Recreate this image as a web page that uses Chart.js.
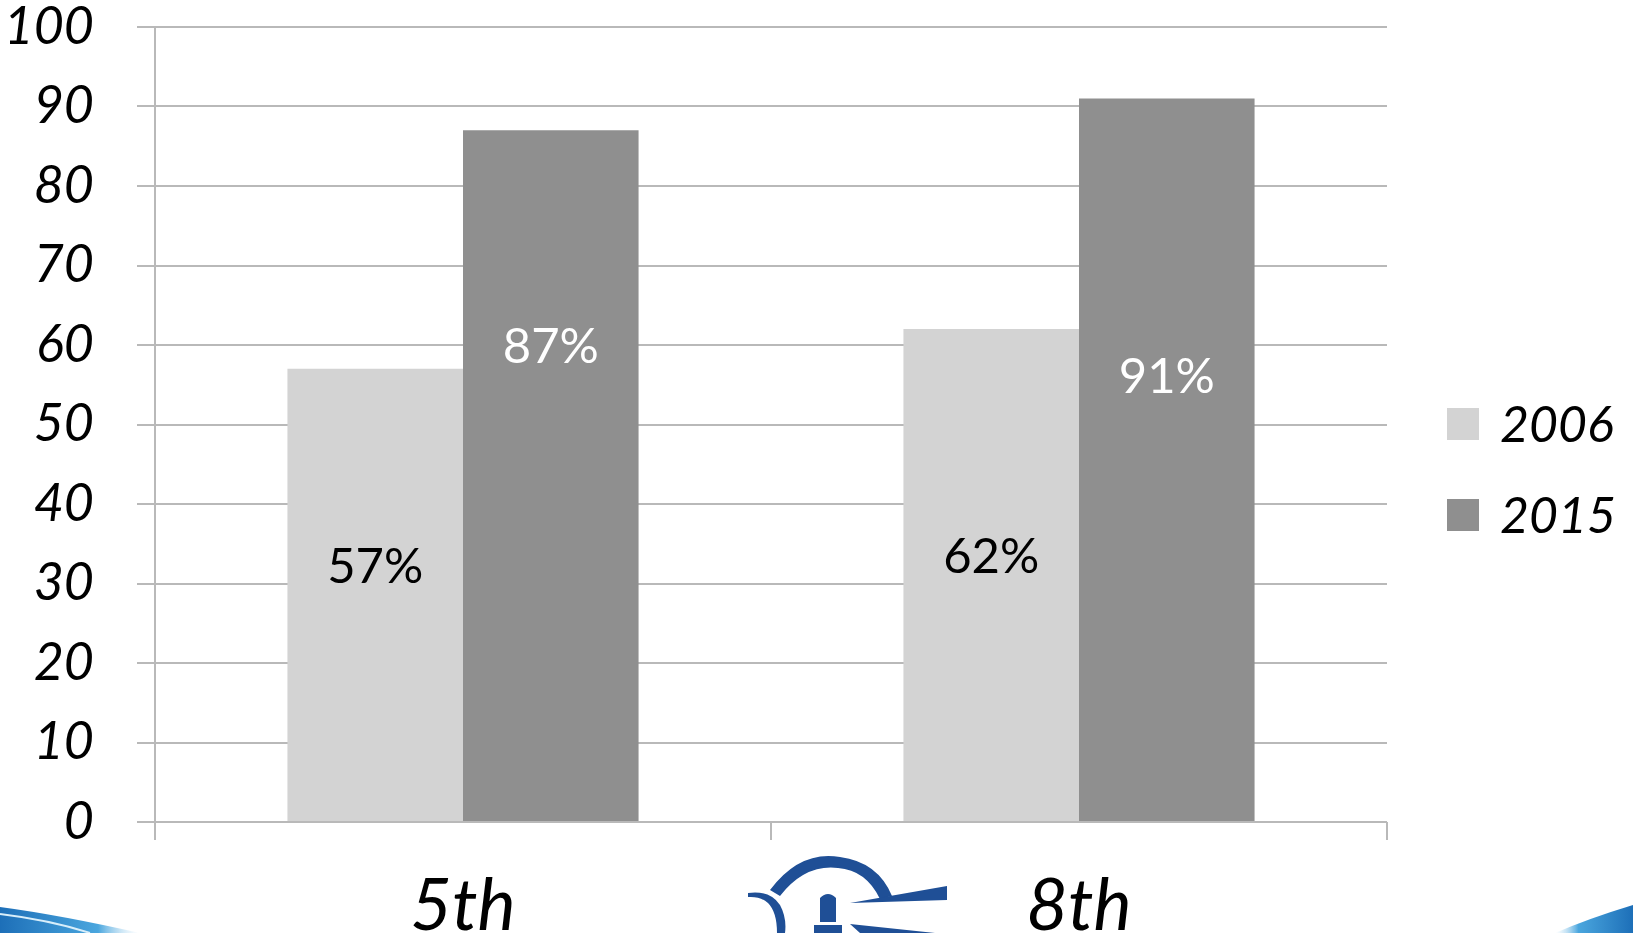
<!DOCTYPE html>
<html>
<head>
<meta charset="utf-8">
<script src="https://cdn.jsdelivr.net/npm/chart.js@4/dist/chart.umd.min.js"></script>
<style>
  html, body { margin: 0; padding: 0; background: #fff; overflow: hidden; }
  #wrap { position: relative; width: 1633px; height: 933px; overflow: hidden; }
  #deco { position: absolute; left: 0; top: 0; pointer-events: none; }
</style>
</head>
<body>
<div id="wrap">
<canvas id="grade-chart" width="1633" height="955"></canvas>
<svg id="deco" width="1633" height="933" viewBox="0 0 1633 933">
  <defs>
    <linearGradient id="swoosh" x1="0" y1="0" x2="1" y2="0">
      <stop offset="0" stop-color="#1d6fb8"/>
      <stop offset="0.7" stop-color="#4aa6de"/>
      <stop offset="1" stop-color="#bfe1f5" stop-opacity="0"/>
    </linearGradient>
    <linearGradient id="swoosh2" x1="1" y1="0" x2="0" y2="0">
      <stop offset="0" stop-color="#1d6fb8"/>
      <stop offset="0.7" stop-color="#4aa6de"/>
      <stop offset="1" stop-color="#bfe1f5" stop-opacity="0"/>
    </linearGradient>
  </defs>
  <path d="M0 907 Q60 915 140 933 L0 933 Z" fill="url(#swoosh)"/>
  <path d="M0 914 Q50 920 90 933" stroke="#d8eefa" stroke-width="2" fill="none"/>
  <path d="M1633 905 Q1590 918 1555 933 L1633 933 Z" fill="url(#swoosh2)"/>
  <g fill="#1f4f96" stroke="none">
    <path d="M770 890 Q800 850 840 857 Q878 862 892 896 L880 899 Q866 870 838 868 Q805 864 780 896 Z"/>
    <path d="M748 893 Q770 890 780 905 Q787 918 785 933 L777 933 Q777 912 768 903 Q760 896 748 897 Z"/>
    <rect x="820" y="898" width="16" height="24"/>
    <path d="M820 898 Q828 890 836 898 Z"/>
    <rect x="814" y="925" width="28" height="8"/>
    <path d="M850 903 L947 886 L947 900 Z"/>
    <path d="M850 924 L935 933 L860 933 Z"/>
  </g>
</svg>
</div>
<script>
const grades = ['5th', '8th'];
const years = ['2006', '2015'];
const values2006 = [57, 62];
const values2015 = [87, 91];
const yTicks = [0, 10, 20, 30, 40, 50, 60, 70, 80, 90, 100];

const barColors = ['#d3d3d3', '#8f8f8f'];
const labelColors = ['#000000', '#ffffff'];
const gridColor = '#b9b9b9';

// value labels drawn inside the bars (anchor heights in axis units)
const valueLabels = {
    id: 'valueLabels',
    afterDatasetsDraw(chart, args, opts) {
        const ctx = chart.ctx;
        const yScale = chart.scales.y;
        ctx.save();
        ctx.font = 'normal 49px Lato';
        ctx.textAlign = 'center';
        ctx.textBaseline = 'middle';
        chart.data.datasets.forEach((ds, i) => {
            const meta = chart.getDatasetMeta(i);
            meta.data.forEach((bar, j) => {
                ctx.fillStyle = labelColors[i];
                ctx.fillText(ds.data[j] + '%', bar.x, yScale.getPixelForValue(opts.anchors[i][j]));
            });
        });
        ctx.restore();
    }
};

// legend on the right, vertically stacked
const sideLegend = {
    id: 'sideLegend',
    afterDraw(chart, args, opts) {
        const ctx = chart.ctx;
        const area = chart.chartArea;
        ctx.save();
        ctx.font = 'italic 50px Lato';
        ctx.textBaseline = 'middle';
        ctx.textAlign = 'left';
        chart.data.datasets.forEach((ds, i) => {
            const cy = opts.top + i * opts.rowGap;
            const x = area.right + opts.offset;
            ctx.fillStyle = ds.backgroundColor;
            ctx.fillRect(x, cy - 16, 32, 32);
            ctx.fillStyle = '#000';
            ctx.fillText(ds.label, x + 53, cy + 2);
        });
        ctx.restore();
    }
};

function noPadding(axis) {
    axis.paddingTop = 0;
    axis.paddingBottom = 0;
    axis.paddingLeft = 0;
    axis.paddingRight = 0;
}

const ctx = document.getElementById('grade-chart').getContext('2d');

new Chart(ctx, {
    type: 'bar',
    data: {
        labels: grades,
        datasets: [
            {
                label: years[0],
                data: values2006,
                backgroundColor: barColors[0],
                categoryPercentage: 0.57,
                barPercentage: 1.0,
            },
            {
                label: years[1],
                data: values2015,
                backgroundColor: barColors[1],
                categoryPercentage: 0.57,
                barPercentage: 1.0,
            },
        ],
    },
    plugins: [valueLabels, sideLegend],
    options: {
        responsive: false,
        animation: false,
        devicePixelRatio: 1,
        layout: { padding: { left: 10, right: 246, top: 27, bottom: 0 } },
        plugins: {
            legend: { display: false },
            tooltip: { enabled: false },
            valueLabels: { anchors: [[32, 33.3], [59.7, 56]] },
            sideLegend: { top: 424, rowGap: 91, offset: 60 },
        },
        scales: {
            x: {
                afterFit: axis => { axis.height = 133; noPadding(axis); },
                grid: {
                    drawOnChartArea: false,
                    drawTicks: true,
                    tickLength: 18,
                    color: gridColor,
                    lineWidth: 2,
                },
                border: { display: false },
                ticks: {
                    color: '#000',
                    padding: 24,
                    maxRotation: 0,
                    font: { family: 'Lato', style: 'italic', size: 72 },
                },
            },
            y: {
                min: 0,
                max: 100,
                afterBuildTicks: axis => { axis.ticks = yTicks.map(v => ({ value: v })); },
                afterFit: axis => { axis.width = 145; noPadding(axis); },
                grid: {
                    tickLength: 18,
                    color: gridColor,
                    lineWidth: 2,
                },
                border: { display: true, color: gridColor, width: 2 },
                ticks: {
                    color: '#000',
                    padding: 43,
                    font: { family: 'Lato', style: 'italic', size: 52 },
                },
            },
        },
    },
});
</script>
</body>
</html>
